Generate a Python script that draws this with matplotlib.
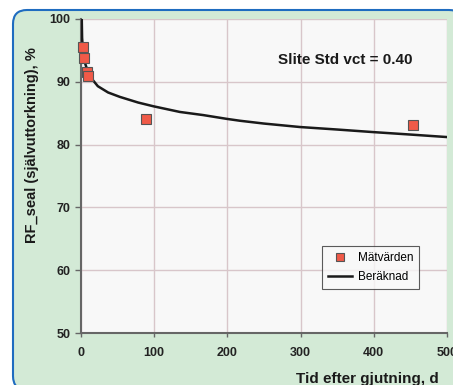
import matplotlib
matplotlib.use("Agg")
import matplotlib.pyplot as plt
from matplotlib.patches import FancyBboxPatch

# Data
meas_x = [2.3, 3.6, 8, 9.5, 89, 454]
meas_y = [95.5, 93.8, 91.6, 91.0, 84.1, 83.1]
calc_x = [1, 1.5, 2.5, 4, 6, 9.5, 16, 23, 37, 53, 78, 99, 135, 167, 199, 217, 250, 299, 350, 398, 450, 500]
calc_y = [100.3, 97.0, 95.3, 94.0, 92.8, 91.6, 90.3, 89.3, 88.3, 87.6, 86.7, 86.1, 85.2, 84.7, 84.1, 83.8, 83.35, 82.8, 82.4, 82.0, 81.6, 81.2]
xticks = [0, 100, 200, 300, 400, 500]
yticks = [50, 60, 70, 80, 90, 100]

plt.rcParams['font.family'] = ['Liberation Sans', 'DejaVu Sans']

fig = plt.figure(figsize=(4.53, 3.85), dpi=100, facecolor='white')
bg = FancyBboxPatch((13, -5), 450, 380, boxstyle="round,pad=0,rounding_size=14",
                    transform=None, facecolor='#d3ead6', edgecolor='#1f6cc0', linewidth=1.5,
                    zorder=-10)
fig.patches.append(bg)

ax = fig.add_axes([81/453, 52/385, 366/453, 314/385])
ax.set_zorder(1)
ax.set_facecolor('#f8f8f8')
ax.set_xlim(0, 500)
ax.set_ylim(50, 100)
ax.set_xticks(xticks)
ax.set_yticks(yticks)
ax.grid(True, color='#d8c6ca', linewidth=1.0)
ax.set_axisbelow(True)
for s in ['top', 'right']:
    ax.spines[s].set_visible(False)
for s in ['left', 'bottom']:
    ax.spines[s].set_color('#666666')
    ax.spines[s].set_linewidth(1.5)
ax.tick_params(axis='y', length=4.5, width=1, color='#666666', pad=3, labelsize=9)
ax.tick_params(axis='x', length=3, width=1, color='#666666', pad=7, labelsize=9)
for lab in ax.get_xticklabels() + ax.get_yticklabels():
    lab.set_fontweight('bold')
    lab.set_color('#222222')

ax.plot(calc_x, calc_y, color='#1a1a1a', linewidth=1.8, label='Beräknad', zorder=3)
ax.plot(meas_x, meas_y, linestyle='none', marker='s', markersize=6.5,
        markerfacecolor='#f05a48', markeredgecolor='#555555', markeredgewidth=0.8,
        label='Mätvärden', zorder=4, clip_on=False)

h, l = ax.get_legend_handles_labels()
leg = ax.legend(h[::-1], l[::-1], loc='lower right', bbox_to_anchor=(0.94, 0.121),
                fontsize=8.5, frameon=True, fancybox=False, edgecolor='#333333',
                handlelength=2.0, borderpad=0.5, labelspacing=0.6, handletextpad=0.5,
                markerscale=0.8)
leg.get_frame().set_linewidth(0.8)
leg.get_frame().set_facecolor('#f8f8f8')

ax.text(361.5, 93.5, 'Slite Std vct = 0.40', fontsize=11, fontweight='bold',
        ha='center', va='center', color='#1a1a1a')

fig.text(32/453, (385-145)/385, 'RF_seal (självuttorkning), %', rotation=90,
         fontsize=10.5, fontweight='bold', ha='center', va='center', color='#1a1a1a')
fig.text(367.5/453, (385-379)/385, 'Tid efter gjutning, d', fontsize=11,
         fontweight='bold', ha='center', va='center', color='#1a1a1a')

fig.savefig('out.png', dpi=100, facecolor='white')
